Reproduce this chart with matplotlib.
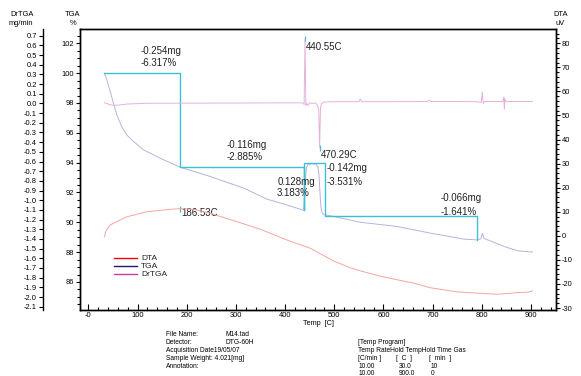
import numpy as np
import matplotlib
matplotlib.use("Agg")
import matplotlib.pyplot as plt
from matplotlib.ticker import MultipleLocator

plt.rcParams['font.family'] = ['Liberation Sans', 'DejaVu Sans']
plt.rcParams['axes.unicode_minus'] = False

# ---- data ----
tga_T = [32.6, 38, 44.2, 50.9, 57.9, 68, 78.2, 91.7, 112, 146, 186.8, 248, 316, 363.5,
         400, 438, 441, 443.7, 447, 455, 463, 467, 469, 471, 473, 475.6, 480, 492,
         553.6, 628, 696, 764, 791, 798, 801.5, 804, 806, 845.6, 873, 903]
tga_W = [100.0, 99.5, 98.8, 98.0, 97.2, 96.4, 95.86, 95.42, 94.86, 94.3, 93.69, 93.07, 92.29, 91.55,
         91.2, 90.8, 92.6, 93.7, 93.88, 93.93, 93.9, 93.7, 93.2, 92.0, 91.0, 90.6, 90.5, 90.44,
         90.0, 89.72, 89.27, 88.87, 88.82, 88.9, 89.27, 88.95, 88.9, 88.38, 88.09, 88.0]

dta_T = [32.6, 35, 37.5, 44.2, 57.8, 78.2, 119, 166.5, 186.8, 214, 248, 302, 350, 404,
         452, 499, 533, 553.6, 594, 662, 696, 750, 798, 832, 873, 895, 903]
dta_V = [-0.4, 1.5, 2.6, 4.5, 5.9, 7.9, 10.0, 11.0, 11.3, 11.0, 9.35, 5.9, 2.7, -1.75,
         -5.2, -10.5, -13.3, -14.6, -16.8, -19.7, -21.6, -23.3, -23.9, -24.3, -23.6, -23.4, -22.9]

drtga_T = [32.6, 40, 50, 60, 80, 120, 200, 300, 400, 436, 438.8, 440.55, 442.3, 444, 447, 450,
           455, 462, 466, 468.5, 470.29, 472, 474, 480, 500, 550, 553, 556, 600, 690, 693, 696,
           750, 790, 799, 801, 803, 806, 820, 843, 845, 846, 847, 849, 880, 903]
drtga_V = [0.007, -0.006, -0.02, -0.017, -0.006, 0.002, 0.003, 0.004, 0.006, 0.006, -0.01, 0.662, -0.02, 0.0, -0.02, 0.008,
           0.0, 0.005, -0.02, -0.06, -0.46, -0.05, 0.0, 0.015, 0.018, 0.018, 0.045, 0.018, 0.018, 0.02, 0.035, 0.02,
           0.02, 0.018, 0.01, 0.12, 0.0, 0.02, 0.02, 0.02, 0.066, -0.058, 0.05, 0.02, 0.02, 0.02]

# weight-loss step construction (cyan)
step_T = [32.6, 186.8, 186.8, 438, 438, 438, 482, 482, 791, 791]
step_W = [100.0, 100.0, 93.683, 93.683, 90.798, 93.981, 93.981, 90.450, 90.450, 88.809]

peak_T = [186.53, 440.55, 470.29]

c_tga, c_dta, c_dr, c_step = '#b4b4dc', '#f4a4a4', '#e6b2da', '#3cc0d8'
lsz = 5.4   # tick label size

fig = plt.figure(figsize=(5.81, 3.76), dpi=100)
ax = fig.add_axes([80/581, 66/376, 476/581, 281/376])
ax2 = ax.twinx()
ax3 = ax.twinx()

# TGA (left axis)
ax.plot(tga_T, tga_W, color=c_tga, lw=0.7, zorder=3)
ax.plot(step_T, step_W, color=c_step, lw=1.0, zorder=4)
ax.set_xlim(-17, 951)
ax.set_ylim(84.12, 102.96)
ax.set_yticks(np.arange(86, 103, 2))
ax.yaxis.set_minor_locator(MultipleLocator(0.5))
ax.set_xticks(np.arange(0, 901, 100))
ax.set_xticklabels(['-0'] + [str(v) for v in range(100, 901, 100)])
ax.xaxis.set_minor_locator(MultipleLocator(20))
ax.tick_params(axis='x', which='major', direction='in', length=4, width=0.8, labelsize=lsz, pad=1.5)
ax.tick_params(axis='x', which='minor', direction='in', length=2.5, width=0.8)
ax.tick_params(axis='y', which='major', direction='out', length=3, width=0.8, labelsize=lsz, pad=1.2)
ax.tick_params(axis='y', which='minor', direction='out', length=2, width=0.8)
ax.set_xlabel('Temp  [C]', fontsize=5.2, labelpad=0.5)

# DTA (right axis)
ax2.plot(dta_T, dta_V, color=c_dta, lw=0.7, zorder=3)
ax2.plot(peak_T[0], np.interp(peak_T[0], dta_T, dta_V), marker='|', color=c_step,
         markersize=4, mew=0.9)
ax2.set_ylim(-30.83, 85.94)
ax2.set_yticks(np.arange(-30, 81, 10))
ax2.yaxis.set_minor_locator(MultipleLocator(2))
ax2.tick_params(axis='y', which='major', direction='out', length=3, width=0.8, labelsize=lsz, pad=1.2)
ax2.tick_params(axis='y', which='minor', direction='out', length=2, width=0.8)

# DrTGA (offset left axis)
ax3.plot(drtga_T, drtga_V, color=c_dr, lw=0.7, zorder=3)
ax3.plot(peak_T[1:], np.interp(peak_T[1:], drtga_T, drtga_V), linestyle='none',
         marker='|', color=c_step, markersize=5, mew=0.9)
ax3.set_ylim(-2.134, 0.769)
ax3.yaxis.tick_left()
ax3.spines['left'].set_position(('axes', (42.7 - 80) / 476))
ax3.spines['left'].set_visible(True)
for s in ['right', 'top', 'bottom']:
    ax3.spines[s].set_visible(False)
dr_ticks = np.round(np.arange(-2.1, 0.71, 0.1), 1)
ax3.set_yticks(dr_ticks)
ax3.set_yticklabels(['%.1f' % (0.0 if abs(v) < 1e-9 else v) for v in dr_ticks])
ax3.tick_params(axis='y', direction='out', length=3, width=0.8, labelsize=lsz, pad=1.2)

for a in (ax, ax2, ax3):
    for s in a.spines.values():
        s.set_linewidth(1.0)

# annotations
ann = dict(fontsize=7, va='center', ha='left', color='#222222', zorder=6)
ax.text(106.8, 101.50, '-0.254mg', **ann)
ax.text(106.8, 100.66, '-6.317%', **ann)
ax.text(441.5, 101.77, '440.55C', **ann)
ax.text(282, 95.18, '-0.116mg', **ann)
ax.text(282, 94.40, '-2.885%', **ann)
ax.text(383.9, 92.72, '0.128mg', **ann)
ax.text(383.9, 91.95, '3.183%', **ann)
ax.text(472, 94.51, '470.29C', **ann)
ax.text(483.7, 93.62, '-0.142mg', **ann)
ax.text(483.7, 92.72, '-3.531%', **ann)
ax.text(716.6, 91.61, '-0.066mg', **ann)
ax.text(716.6, 90.71, '-1.641%', **ann)
ax.text(188.3, 90.61, '186.53C', **ann)

# legend
leg_items = [('DTA', '#ff0000'), ('TGA', '#1c1c6c'), ('DrTGA', '#c83ca8')]
for i, (lab, col) in enumerate(leg_items):
    yy = 0.184 - i * 0.0285
    ax.plot([0.0714, 0.119], [yy, yy], color=col, lw=1.0, transform=ax.transAxes, clip_on=False)
    ax.text(0.128, yy, lab, fontsize=6, va='center', ha='left', color='#222222', transform=ax.transAxes)

# axis titles
tsz = 5.4
fig.text(22/581, 1 - 15/376, 'DrTGA', fontsize=tsz, ha='center', va='center')
fig.text(21/581, 1 - 23.5/376, 'mg/min', fontsize=tsz, ha='center', va='center')
fig.text(73/581, 1 - 15/376, 'TGA', fontsize=tsz, ha='center', va='center')
fig.text(73/581, 1 - 23.5/376, '%', fontsize=tsz, ha='center', va='center')
fig.text(560.5/581, 1 - 15/376, 'DTA', fontsize=tsz, ha='center', va='center')
fig.text(560/581, 1 - 23.5/376, 'uV', fontsize=tsz, ha='center', va='center')

# info block
isz = 4.8
def px(x, y, s):
    fig.text(x/581, 1 - y/376, s, fontsize=isz, ha='left', va='center')

px(166, 335, 'File Name:')
px(226, 335, 'M14.tad')
px(166, 342.7, 'Detector:')
px(226, 342.7, 'DTG-60H')
px(166, 350.3, 'Acquisition Date19/05/07')
px(166, 358.3, 'Sample Weight: 4.021[mg]')
px(166, 366.7, 'Annotation:')

px(358.3, 342.3, '[Temp Program]')
px(358.3, 350.3, 'Temp RateHold TempHold Time Gas')
px(358.3, 358.3, '[C/min ]')
px(395.7, 358.3, '[  C  ]')
px(429.3, 358.3, '[  min  ]')
px(358.3, 366.7, '10.00')
px(398.3, 366.7, '30.0')
px(431, 366.7, '10')
px(358.3, 373.5, '10.00')
px(398.3, 373.5, '900.0')
px(431, 373.5, '0')

fig.savefig('out.png', dpi=100)
